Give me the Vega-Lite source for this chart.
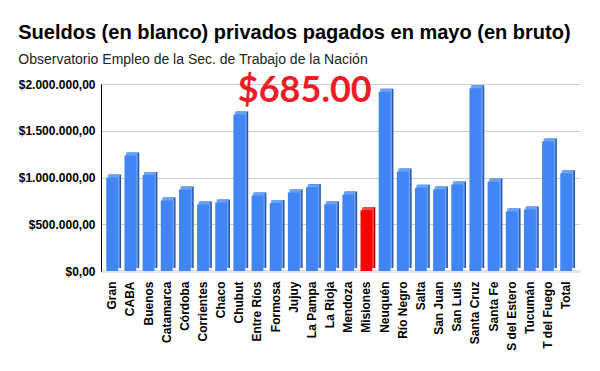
{
  "$schema": "https://vega.github.io/schema/vega-lite/v6.json",
  "width": 479,
  "height": 187,
  "padding": {"left": 18, "top": 23, "right": 18, "bottom": 5},
  "background": "white",
  "title": {
    "text": "Sueldos (en blanco) privados pagados en mayo (en bruto)",
    "subtitle": "Observatorio Empleo de la Sec. de Trabajo de la Nación",
    "anchor": "start",
    "frame": "bounds",
    "font": "Liberation Sans",
    "fontSize": 20,
    "fontWeight": "bold",
    "color": "#000000",
    "subtitleFont": "Liberation Sans",
    "subtitleFontSize": 14,
    "subtitleColor": "#222222",
    "subtitlePadding": 10,
    "offset": 6
  },
  "data": {
    "values": [
      {"region": "Gran", "v": 1000000},
      {"region": "CABA", "v": 1235000},
      {"region": "Buenos", "v": 1028000},
      {"region": "Catamarca", "v": 754000},
      {"region": "Córdoba", "v": 872000},
      {"region": "Corrientes", "v": 712000},
      {"region": "Chaco", "v": 733000},
      {"region": "Chubut", "v": 1673000},
      {"region": "Entre Ríos", "v": 808000},
      {"region": "Formosa", "v": 726000},
      {"region": "Jujuy", "v": 840000},
      {"region": "La Pampa", "v": 897000},
      {"region": "La Rioja", "v": 712000},
      {"region": "Mendoza", "v": 819000},
      {"region": "Misiones", "v": 650000},
      {"region": "Neuquén", "v": 1918000},
      {"region": "Río Negro", "v": 1064000},
      {"region": "Salta", "v": 890000},
      {"region": "San Juan", "v": 872000},
      {"region": "San Luis", "v": 925000},
      {"region": "Santa Cruz", "v": 1954000},
      {"region": "Santa Fe", "v": 957000},
      {"region": "S del Estero", "v": 637000},
      {"region": "Tucumán", "v": 658000},
      {"region": "T del Fuego", "v": 1384000},
      {"region": "Total", "v": 1046000}
    ]
  },
  "encoding": {
    "x": {
      "field": "region",
      "type": "nominal",
      "sort": null,
      "scale": {"paddingInner": 0.35, "paddingOuter": 0.365, "align": 0.4},
      "axis": {
        "title": null,
        "labelAngle": -90,
        "labelFont": "Liberation Sans",
        "labelFontSize": 12,
        "labelFontWeight": "bold",
        "labelColor": "#000000",
        "labelPadding": 10,
        "ticks": false,
        "domainColor": "#e4e4e4",
        "domainWidth": 3,
        "labelOverlap": false
      }
    },
    "y": {
      "field": "v",
      "type": "quantitative",
      "scale": {"domain": [0, 2000000]},
      "axis": {
        "title": null,
        "values": [0, 500000, 1000000, 1500000, 2000000],
        "format": "$,.2f",
        "labelFont": "Liberation Sans",
        "labelFontSize": 12,
        "labelFontWeight": "bold",
        "labelColor": "#000000",
        "labelPadding": 6,
        "ticks": false,
        "domain": true,
        "domainColor": "#000000",
        "gridColor": "#cccccc",
        "gridWidth": 1
      }
    }
  },
  "layer": [
    {
      "mark": {"type": "bar", "xOffset": 3, "yOffset": -3},
      "encoding": {
        "color": {
          "condition": {"test": "datum.region === 'Misiones'", "value": "#a80000"},
          "value": "#2b58a6"
        }
      }
    },
    {
      "mark": {"type": "bar", "xOffset": 1.5, "yOffset": -3},
      "encoding": {
        "color": {
          "condition": {"test": "datum.region === 'Misiones'", "value": "#ff4a4a"},
          "value": "#6aa2f7"
        }
      }
    },
    {
      "mark": {"type": "bar"},
      "encoding": {
        "color": {
          "condition": {"test": "datum.region === 'Misiones'", "value": "#ff0000"},
          "value": "#4285f4"
        }
      }
    },
    {
      "transform": [{"filter": "datum.region === 'Jujuy'"}],
      "mark": {
        "type": "text",
        "font": "Lato",
        "fontWeight": "bold",
        "fontSize": 36,
        "color": "#ee1c25",
        "align": "center",
        "baseline": "alphabetic",
        "dx": 11
      },
      "encoding": {
        "y": {"datum": 1805000},
        "text": {"value": "$685.00"}
      }
    }
  ],
  "config": {
    "view": {"stroke": null},
    "locale": {
      "number": {"decimal": ",", "thousands": ".", "grouping": [3], "currency": ["$", ""]}
    }
  }
}
